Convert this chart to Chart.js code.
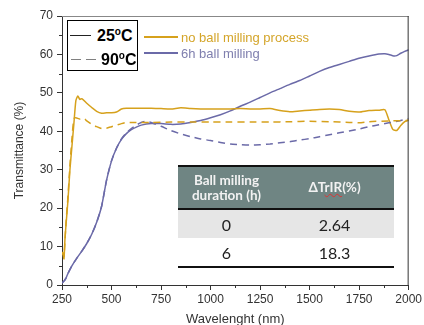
<!DOCTYPE html>
<html>
<head>
<meta charset="utf-8">
<script src="https://cdn.jsdelivr.net/npm/chart.js@4"></script>
<style>
    body { margin: 0; background: #fff; }
    .wrap { position: relative; width: 424px; height: 325px; overflow: hidden; font-family: "Liberation Sans", Arial, sans-serif; }
    .tempbox { position: absolute; left: 67px; top: 20px; width: 69px; height: 49px; border: 1px solid #000; background: #fff; }
    .tempbox .row { position: absolute; left: 0; height: 20px; width: 69px; }
    .tempbox .ln { position: absolute; left: 2px; top: 9px; width: 21px; border-top: 1px solid #222; }
    .tempbox .dsh { position: absolute; top: 9px; width: 10px; border-top: 1.5px solid #808080; }
    .tempbox .lbl { position: absolute; left: 29px; top: 0; font-weight: bold; font-size: 16px; line-height: 20px; color: #000; }
    .tempbox sup { font-size: 10px; vertical-align: 6px; line-height: 0; }
    .serleg { position: absolute; left: 144px; font-size: 13px; line-height: 16px; }
    .serleg span.ln { display: inline-block; width: 34px; height: 0; border-top: 2px solid; vertical-align: 4px; margin-right: 3px; }
    table.res { position: absolute; left: 178px; top: 165px; width: 216px; border-collapse: collapse; font-family: Lato, "Open Sans", sans-serif; }
    table.res th { background: #6f8583; color: #f2f2f2; font-weight: bold; font-size: 13.5px; line-height: 15px; height: 41px; padding: 0; border-top: 2px solid #111; border-bottom: 2px solid #111; }
    table.res td { text-align: center; font-size: 16px; height: 28px; padding: 0; color: #222; }
    table.res tr.r1 td { background: #e6e6e6; }
    table.res tr.r2 td { border-bottom: 2px solid #111; }
    .wavy { text-decoration: underline wavy #d33; text-decoration-thickness: 1px; }
</style>
</head>
<body>
<div class="wrap">
    <canvas id="chart" width="424" height="325"></canvas>

    <div class="tempbox">
        <div class="row" style="top:5px"><div class="ln"></div><div class="lbl">25<sup>o</sup>C</div></div>
        <div class="row" style="top:29px"><div class="dsh" style="left:3px"></div><div class="dsh" style="left:18px"></div><div class="lbl" style="left:33px">90<sup>o</sup>C</div></div>
    </div>
    <div class="serleg" style="top:30px; color:#d4a52a"><span class="ln" style="border-color:#d6a11c"></span>no ball milling process</div>
    <div class="serleg" style="top:46px; color:#7f7fae"><span class="ln" style="border-color:#6b6aa8"></span>6h ball milling</div>

    <table class="res">
        <tr><th style="width:97px">Ball milling<br>duration (h)</th><th>ΔT<span class="wavy">rIR</span>(%)</th></tr>
        <tr class="r1"><td>0</td><td>2.64</td></tr>
        <tr class="r2"><td>6</td><td>18.3</td></tr>
    </table>
</div>

<script>
// wavelength (nm) and transmittance (%)
const wlNoMill = [250, 255, 260, 265, 270, 280, 290, 300, 310, 320, 330, 340, 350, 375, 400, 425, 450, 475, 500, 525, 550, 575, 600, 650, 700, 750, 800, 850, 900, 950, 1000, 1050, 1100, 1150, 1200, 1250, 1300, 1350, 1400, 1450, 1500, 1550, 1600, 1650, 1700, 1750, 1800, 1850, 1880, 1900, 1920, 1940, 1960, 1980, 2000];
const noMill25 = [8.5, 8.0, 6.8, 12, 15.5, 22, 30, 36, 42, 48, 49.2, 48.3, 48.5, 47.3, 46.2, 45.2, 44.7, 44.8, 44.8, 45.0, 45.8, 46.0, 46.0, 46.0, 46.0, 45.9, 45.8, 46.1, 45.9, 45.8, 45.8, 45.8, 45.8, 45.9, 45.8, 45.8, 45.9, 45.4, 45.1, 45.3, 45.5, 45.7, 45.8, 45.7, 45.2, 45.0, 45.4, 45.5, 45.6, 43.0, 40.5, 40.2, 41.5, 42.5, 43.0];

const wlNoMillHot = [250, 255, 260, 270, 280, 290, 300, 310, 320, 340, 360, 375, 400, 425, 450, 475, 500, 525, 550, 575, 600, 700, 800, 900, 1000, 1100, 1200, 1300, 1400, 1500, 1600, 1700, 1750, 1800, 1900, 2000];
const noMill90 = [8.0, 8.5, 7.5, 16, 23, 31, 38, 43.3, 43.5, 43.2, 43.4, 42.7, 41.8, 41.2, 40.7, 40.8, 41.2, 41.6, 42.0, 42.3, 42.3, 42.3, 42.4, 42.4, 42.4, 42.4, 42.4, 42.4, 42.5, 42.6, 42.5, 42.3, 42.2, 42.5, 42.7, 42.8];

const wlMill = [250, 260, 270, 280, 300, 325, 350, 375, 400, 425, 450, 475, 500, 525, 550, 575, 600, 625, 650, 700, 750, 800, 850, 900, 950, 1000, 1050, 1100, 1150, 1200, 1250, 1300, 1350, 1400, 1450, 1500, 1550, 1600, 1650, 1700, 1750, 1800, 1850, 1880, 1900, 1925, 1940, 1960, 1980, 2000];
const mill25 = [0.5, 1.0, 1.8, 3.0, 5.0, 7.0, 8.8, 10.8, 13.2, 16.3, 20.5, 27.3, 32.3, 35.6, 37.9, 39.4, 40.4, 41.1, 41.6, 42.0, 42.0, 41.8, 41.9, 42.3, 42.8, 43.5, 44.3, 45.3, 46.5, 47.6, 48.8, 50.0, 51.1, 52.2, 53.2, 54.4, 55.6, 56.6, 57.4, 58.2, 59.0, 59.6, 60.1, 60.2, 60.0, 59.6, 59.7, 60.3, 60.8, 61.2];

const wlMillHot = [250, 260, 270, 280, 300, 325, 350, 375, 400, 425, 450, 475, 500, 525, 550, 575, 600, 625, 650, 675, 700, 750, 800, 850, 900, 950, 1000, 1050, 1100, 1150, 1200, 1250, 1300, 1350, 1400, 1450, 1500, 1550, 1600, 1650, 1700, 1750, 1800, 1850, 1900, 1950, 2000];
const mill90 = [0.5, 1.0, 1.8, 3.0, 5.0, 7.0, 8.8, 10.8, 13.2, 16.3, 20.5, 27.3, 32.3, 35.6, 38.0, 39.6, 40.7, 41.6, 42.3, 42.6, 42.3, 41.3, 40.2, 39.3, 38.6, 38.0, 37.6, 37.1, 36.7, 36.5, 36.4, 36.5, 36.7, 37.0, 37.3, 37.7, 38.1, 38.6, 39.1, 39.6, 40.1, 40.6, 41.2, 41.7, 42.2, 42.7, 43.3];

const xTicks = [250, 500, 750, 1000, 1250, 1500, 1750, 2000];
const yTicks = [0, 10, 20, 30, 40, 50, 60, 70];

const GOLD = '#d6a11c';
const PURPLE = '#6b6aa8';

const pts = (xs, ys) => xs.map((x, i) => ({ x: x, y: ys[i] }));

// top/right frame + minor ticks
const framePlugin = {
    id: 'frame',
    afterDraw(chart) {
        const { ctx, chartArea: a, scales } = chart;
        ctx.save();
        ctx.lineWidth = 1;
        ctx.strokeStyle = '#888';
        ctx.beginPath();
        ctx.moveTo(a.left, a.top + 0.5);
        ctx.lineTo(a.right, a.top + 0.5);
        ctx.stroke();
        ctx.strokeStyle = '#333';
        ctx.beginPath();
        ctx.moveTo(a.right - 0.5, a.top);
        ctx.lineTo(a.right - 0.5, a.bottom);
        ctx.stroke();

        ctx.beginPath();
        for (let v = 5; v < 70; v += 10) {
            const py = Math.round(scales.y.getPixelForValue(v)) + 0.5;
            ctx.moveTo(a.left - 3, py);
            ctx.lineTo(a.left, py);
        }
        for (let v = 375; v < 2000; v += 250) {
            const px = Math.round(scales.x.getPixelForValue(v)) + 0.5;
            ctx.moveTo(px, a.bottom);
            ctx.lineTo(px, a.bottom + 3);
        }
        ctx.stroke();
        ctx.restore();
    }
};

const canva = document.querySelector('#chart');

new Chart(canva, {
    type: 'line',
    data: {
        datasets: [
            {
                label: 'no ball milling process 90°C',
                data: pts(wlNoMillHot, noMill90),
                borderColor: GOLD,
                borderWidth: 1.5,
                borderDash: [7, 5]
            },
            {
                label: '6h ball milling 90°C',
                data: pts(wlMillHot, mill90),
                borderColor: PURPLE,
                borderWidth: 1.5,
                borderDash: [7, 5]
            },
            {
                label: 'no ball milling process 25°C',
                data: pts(wlNoMill, noMill25),
                borderColor: GOLD,
                borderWidth: 1.5
            },
            {
                label: '6h ball milling 25°C',
                data: pts(wlMill, mill25),
                borderColor: PURPLE,
                borderWidth: 1.5
            }
        ]
    },
    options: {
        responsive: false,
        animation: false,
        devicePixelRatio: 1,
        layout: { padding: { top: 16, right: 12, left: 0, bottom: 0 } },
        elements: { point: { radius: 0 }, line: { tension: 0.2 } },
        plugins: {
            legend: { display: false },
            tooltip: { enabled: false }
        },
        scales: {
            x: {
                type: 'linear',
                min: 250,
                max: 2000,
                afterFit: (s) => { s.height = 40; },
                afterBuildTicks: (s) => { s.ticks = xTicks.map(v => ({ value: v })); },
                ticks: {
                    color: '#333',
                    padding: 2,
                    maxRotation: 0,
                    callback: (v) => String(v),
                    font: { family: '"Liberation Sans", Arial', size: 12 }
                },
                grid: { drawOnChartArea: false, tickLength: 5, color: '#333' },
                border: { color: '#333', width: 1 },
                title: {
                    display: true,
                    text: 'Wavelenght (nm)',
                    color: '#333',
                    padding: { top: 0, bottom: -2 },
                    font: { family: '"Liberation Sans", Arial', size: 13 }
                }
            },
            y: {
                min: 0,
                max: 70,
                afterFit: (s) => { s.width = 62; },
                afterBuildTicks: (s) => { s.ticks = yTicks.map(v => ({ value: v })); },
                ticks: {
                    color: '#333',
                    padding: 4,
                    callback: (v) => String(v),
                    font: { family: '"Liberation Sans", Arial', size: 12 }
                },
                grid: { drawOnChartArea: false, tickLength: 5, color: '#333' },
                border: { color: '#333', width: 1 },
                title: {
                    display: true,
                    text: 'Transmittance (%)',
                    color: '#333',
                    padding: { top: 12, bottom: 0 },
                    font: { family: '"Liberation Sans", Arial', size: 12 }
                }
            }
        }
    },
    plugins: [framePlugin]
});
</script>
</body>
</html>
